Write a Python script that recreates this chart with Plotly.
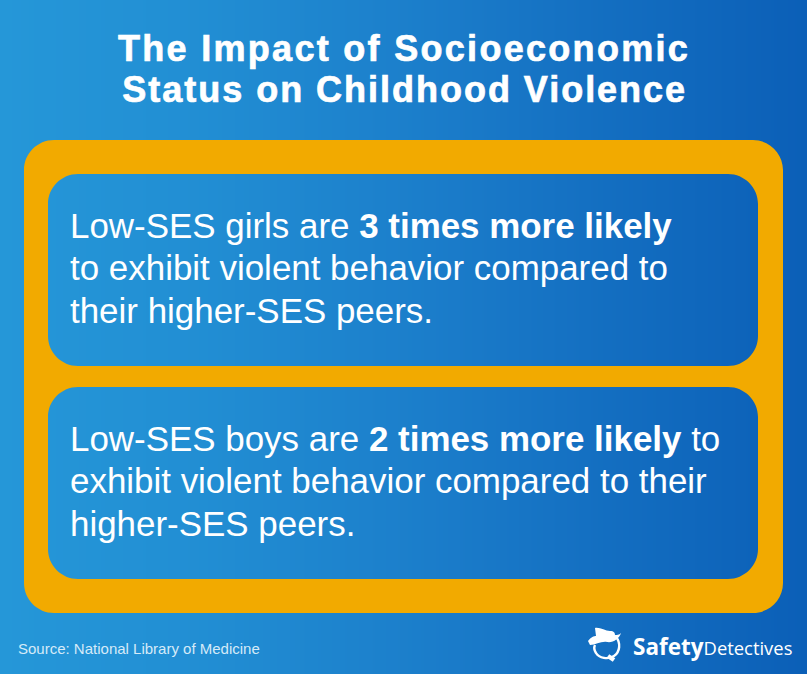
import plotly.graph_objects as go

WIDTH, HEIGHT = 807, 674
gradient_x = [0, 200, 400, 600, 807]
gradient_z = [0, 0.16, 0.42, 0.72, 1]
gradient_colors = [[0, "#2597d8"], [0.5, "#1a7bc9"], [1, "#0b5fb7"]]

title_lines = ["The Impact of Socioeconomic", "Status on Childhood Violence"]
panel_one = ["Low-SES girls are <b>3 times more likely</b>",
             "to exhibit violent behavior compared to",
             "their higher-SES peers."]
panel_two = ["Low-SES boys are <b>2 times more likely</b> to",
             "exhibit violent behavior compared to their",
             "higher-SES peers."]
source_text = "Source: National Library of Medicine"
logo_text = ("<span style=\"font-size:22.5px\"><b>Safety</b></span>"
             "<span style=\"font-size:18.4px\">Detectives</span>")
ORANGE = "#f2aa00"


def rrect(x0, y0, x1, y1, r):
    k = r * 0.45
    return (f"M{x0+r},{y0} L{x1-r},{y0} C{x1-k},{y0} {x1},{y0+k} {x1},{y0+r} "
            f"L{x1},{y1-r} C{x1},{y1-k} {x1-k},{y1} {x1-r},{y1} "
            f"L{x0+r},{y1} C{x0+k},{y1} {x0},{y1-k} {x0},{y1-r} "
            f"L{x0},{y0+r} C{x0},{y0+k} {x0+k},{y0} {x0+r},{y0} Z ")


fig = go.Figure(go.Heatmap(x=gradient_x, y=[0, HEIGHT],
                           z=[gradient_z, gradient_z], zmin=0, zmax=1,
                           colorscale=gradient_colors, zsmooth="best",
                           showscale=False, hoverinfo="skip"))

ring = rrect(24, 140, 783, 613, 30) + rrect(48, 174, 758, 366, 30) + rrect(48, 387, 758, 579, 30)
hat = ("M588,641 C591,637 594,636 596,636 L595,628 C600,627 605,631 610,631 C614,631 615,633 615,635 "
       "C617,635 619,635 621,633 C619,639 613,643 607,642 C601,641 596,645 590,645 Z")
loop = "M616,637 C621,643 620,652 614,656 C608,660 599,658 596,653 C594,650 594,647 595,645"
handle = "M608,656 L614,660"
shapes = [dict(type="path", path=ring, xref="x", yref="y", fillcolor=ORANGE,
               line_width=0, layer="above", fillrule="evenodd"),
          dict(type="path", path=hat, xref="x", yref="y", fillcolor="white", line_width=0, layer="above"),
          dict(type="path", path=loop, xref="x", yref="y", line=dict(color="white", width=2.4), layer="above"),
          dict(type="path", path=handle, xref="x", yref="y", line=dict(color="white", width=4.5), layer="above")]

annots = []
def add(text, x, y, size, anchor="left", color="white", family="Liberation Sans"):
    annots.append(dict(text=text, x=x, y=y, xref="x", yref="y", xanchor=anchor, yanchor="middle",
                       showarrow=False, font=dict(family=family, size=size, color=color)))

for line, y in zip(title_lines, [48, 89]):
    add(f"<b>{line}</b>", 404, y, 36, "center")
for line, y in zip(panel_one, [225, 267, 310]):
    add(line, 68, y, 34.93)
for line, y in zip(panel_two, [438, 480, 523]):
    add(line, 68, y, 34.93)
add(source_text, 16, 648.5, 15, color="#d5eaf8")
add(logo_text, 631, 646, 20, family="Open Sans")

fig.update_layout(width=WIDTH, height=HEIGHT, margin=dict(l=0, r=0, t=0, b=0),
                  xaxis=dict(range=[0, WIDTH], visible=False, fixedrange=True),
                  yaxis=dict(range=[HEIGHT, 0], visible=False, fixedrange=True),
                  shapes=shapes, annotations=annots, showlegend=False,
                  paper_bgcolor="#1a7bc9", plot_bgcolor="#1a7bc9")

post = """
document.documentElement.style.margin='0';
document.body.style.margin='0';
document.body.style.overflow='hidden';
document.querySelectorAll('.annotation-text').forEach(function(t){
  var first = /Impact of/.test(t.textContent), second = /Status on/.test(t.textContent);
  if (first || second) {
    t.style.letterSpacing = first ? '2.3px' : '1.98px';
    t.style.stroke='white';
    t.style.strokeWidth='0.7px';
  }
});
"""
fig.write_html("out.html", post_script=post, config={"displayModeBar": False})
